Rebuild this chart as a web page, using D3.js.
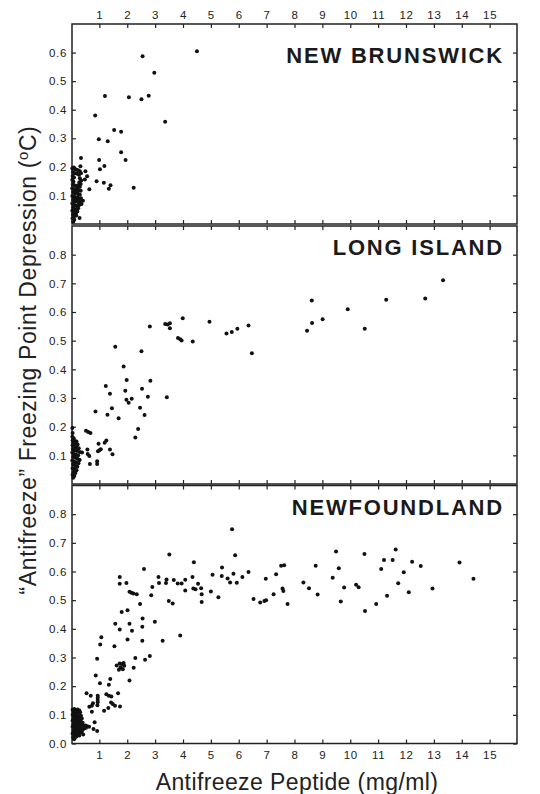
<!DOCTYPE html>
<html>
<head>
<meta charset="utf-8">
<script src="https://cdn.jsdelivr.net/npm/d3@7"></script>
<style>
  body { margin: 0; background: #fff; }
  svg { display: block; font-family: "Liberation Sans", Arial, sans-serif; }
  .tick text { font-size: 11.5px; fill: #222; letter-spacing: 0.7px; }
  .tick line { stroke: #222; stroke-width: 1.2; }
  .frame { fill: none; stroke: #222; stroke-width: 1.5; }
  .title { font-weight: bold; font-size: 22px; fill: #1a1a1a; letter-spacing: 1.8px; }
  .axis-label { font-size: 23px; fill: #222; }
</style>
</head>
<body>
<script>
// Tick values
const xTicks = [1, 2, 3, 4, 5, 6, 7, 8, 9, 10, 11, 12, 13, 14, 15];
const nbTicks = [0.1, 0.2, 0.3, 0.4, 0.5, 0.6];
const liTicks = [0.1, 0.2, 0.3, 0.4, 0.5, 0.6, 0.7, 0.8];
const nfTicks = [0.0, 0.1, 0.2, 0.3, 0.4, 0.5, 0.6, 0.7, 0.8];

// [peptide mg/ml, freezing point depression °C]
const newBrunswick = [
  [4.50,0.605],[2.55,0.587],[2.97,0.529],[1.20,0.448],[2.06,0.444],[2.51,0.437],[2.77,0.449],
  [3.36,0.358],[0.85,0.380],[1.53,0.329],[1.78,0.323],[0.98,0.297],[1.30,0.290],[1.78,0.251],
  [1.94,0.224],[0.99,0.224],[1.18,0.203],[1.02,0.192],[0.34,0.231],[0.32,0.202],[0.50,0.185],
  [0.56,0.167],[0.48,0.156],[0.90,0.150],[1.16,0.144],[1.40,0.136],[1.34,0.123],[2.23,0.127],
  [0.64,0.122],[0.41,0.081],[0.36,0.070],[0.29,0.021],
  [0.03,0.195],[0.08,0.198],[0.13,0.192],[0.18,0.190],[0.24,0.188],[0.30,0.185],[0.05,0.182],
  [0.11,0.178],[0.20,0.176],[0.27,0.172],[0.34,0.178],[0.04,0.168],[0.09,0.163],[0.30,0.160],
  [0.35,0.152],[0.03,0.155],[0.07,0.148],[0.28,0.146],[0.33,0.140],[0.05,0.138],[0.12,0.135],
  [0.18,0.132],[0.24,0.136],[0.30,0.130],[0.03,0.125],[0.09,0.122],[0.15,0.120],[0.21,0.124],
  [0.27,0.118],[0.33,0.116],[0.06,0.112],[0.12,0.108],[0.18,0.110],[0.24,0.105],[0.30,0.102],
  [0.03,0.098],[0.09,0.095],[0.15,0.092],[0.21,0.094],[0.27,0.088],[0.34,0.090],[0.06,0.085],
  [0.12,0.080],[0.18,0.082],[0.24,0.076],[0.30,0.078],[0.03,0.072],[0.09,0.068],[0.15,0.065],
  [0.21,0.062],[0.27,0.066],[0.06,0.058],[0.12,0.052],[0.18,0.050],[0.24,0.055],[0.03,0.046],
  [0.09,0.042],[0.15,0.038],[0.21,0.044],[0.05,0.032],[0.11,0.028],[0.17,0.030],[0.04,0.020],
  [0.10,0.015],[0.06,0.008]
];

const longIsland = [
  [13.33,0.711],[12.69,0.647],[11.29,0.643],[9.91,0.610],[10.52,0.542],[9.01,0.575],[8.62,0.640],
  [8.63,0.562],[8.45,0.535],[6.35,0.553],[6.47,0.456],[5.95,0.542],[5.75,0.530],[5.56,0.525],
  [4.95,0.566],[4.35,0.497],[3.99,0.578],
  [2.81,0.549],[3.36,0.558],[3.53,0.561],[3.53,0.543],[3.45,0.556],[3.82,0.509],[3.90,0.505],
  [3.95,0.501],[1.57,0.479],[2.51,0.463],[1.87,0.410],[1.98,0.363],[2.83,0.360],[1.23,0.342],
  [1.38,0.315],[1.93,0.325],[2.53,0.332],[3.42,0.303],[2.74,0.304],[1.97,0.294],[2.05,0.283],
  [2.16,0.297],[2.46,0.266],[2.62,0.241],[1.45,0.264],[1.29,0.242],[0.86,0.253],[1.69,0.229],
  [2.39,0.192],[2.29,0.162],[0.52,0.186],[0.60,0.181],[0.68,0.178],[0.97,0.140],[1.19,0.144],
  [1.25,0.152],[0.95,0.114],[1.00,0.118],[1.05,0.121],[1.38,0.120],[1.47,0.104],[0.57,0.120],
  [0.58,0.105],[0.64,0.098],[0.66,0.070],[0.92,0.079],[0.92,0.070],[0.38,0.110],[0.29,0.084],
  [0.03,0.195],[0.04,0.178],[0.03,0.165],[0.08,0.160],[0.04,0.152],[0.12,0.150],[0.18,0.148],
  [0.07,0.143],[0.14,0.140],[0.22,0.138],[0.04,0.135],[0.10,0.130],[0.17,0.128],[0.26,0.125],
  [0.05,0.122],[0.12,0.118],[0.20,0.115],[0.30,0.112],[0.03,0.110],[0.09,0.105],[0.16,0.102],
  [0.24,0.100],[0.06,0.095],[0.13,0.092],[0.21,0.088],[0.28,0.085],[0.03,0.082],[0.10,0.078],
  [0.17,0.075],[0.25,0.072],[0.06,0.068],[0.14,0.064],[0.21,0.060],[0.04,0.055],[0.11,0.052],
  [0.18,0.048],[0.07,0.042],[0.14,0.038],[0.04,0.032],[0.10,0.028],[0.06,0.022]
];

const newfoundland = [
  [3.51,0.659],[2.60,0.609],[4.39,0.632],[1.73,0.581],[1.73,0.557],[1.97,0.560],[2.08,0.529],
  [2.15,0.526],[2.22,0.523],[2.34,0.521],[2.46,0.487],[2.86,0.517],[2.90,0.546],[3.12,0.581],
  [3.14,0.560],[3.39,0.560],[3.41,0.572],[3.49,0.497],[3.63,0.488],[3.67,0.570],[3.81,0.558],
  [3.95,0.558],[4.08,0.571],[4.08,0.534],[4.34,0.581],[4.37,0.541],[4.45,0.538],[4.54,0.557],
  [4.65,0.542],[4.67,0.521],[4.67,0.494],[1.80,0.459],[2.01,0.465],[2.55,0.436],[1.57,0.418],
  [2.08,0.418],[1.73,0.398],[2.17,0.393],[2.54,0.407],[2.99,0.425],[2.01,0.363],[2.54,0.358],
  [3.27,0.358],[3.90,0.377],[1.07,0.371],[1.03,0.345],[1.54,0.339],[0.92,0.296],[2.29,0.298],
  [2.64,0.292],[2.81,0.305],[2.23,0.264],[2.08,0.220],
  [1.62,0.272],[1.73,0.279],[1.82,0.277],[1.89,0.271],[1.76,0.266],[1.84,0.259],[1.70,0.257],
  [1.87,0.281],[0.87,0.237],[1.02,0.210],[1.39,0.225],[1.34,0.205],[0.54,0.175],[0.69,0.167],
  [0.94,0.167],[0.94,0.160],[0.94,0.152],[0.94,0.144],[0.93,0.133],[1.25,0.172],[1.34,0.167],
  [1.43,0.164],[1.67,0.175],[0.64,0.128],[0.73,0.132],[0.77,0.140],[0.73,0.111],[1.17,0.114],
  [1.32,0.124],[1.42,0.143],[1.48,0.138],[1.56,0.132],[1.74,0.129],[0.83,0.074],[0.79,0.051],
  [0.92,0.044],[0.42,0.031],[0.09,0.015],
  [5.76,0.747],[5.87,0.657],[5.40,0.614],[5.39,0.584],[5.27,0.510],[5.06,0.589],[5.00,0.530],
  [5.60,0.576],[5.69,0.562],[5.81,0.592],[5.93,0.561],[6.13,0.581],[6.35,0.598],[6.53,0.504],
  [6.77,0.492],[6.92,0.497],[6.98,0.500],[6.97,0.575],[7.25,0.521],[7.34,0.590],[7.52,0.620],
  [7.63,0.622],[7.57,0.541],[7.60,0.532],[7.75,0.487],[8.32,0.562],[8.52,0.542],[8.76,0.620],
  [8.83,0.520],[9.37,0.578],[9.49,0.670],[9.59,0.611],[9.78,0.544],[9.66,0.495],[10.21,0.554],
  [10.30,0.545],[10.51,0.661],[10.53,0.462],[10.93,0.487],[11.11,0.609],[11.21,0.640],[11.32,0.515],
  [11.52,0.640],[11.63,0.677],[11.72,0.559],[11.92,0.597],[12.10,0.528],[12.22,0.634],[12.53,0.619],
  [12.95,0.541],[13.92,0.631],[14.42,0.575],
  [0.04,0.118],[0.10,0.120],[0.16,0.117],[0.22,0.119],[0.28,0.115],[0.07,0.110],[0.13,0.108],
  [0.19,0.111],[0.25,0.106],[0.31,0.109],[0.04,0.100],[0.10,0.098],[0.16,0.101],[0.22,0.096],
  [0.28,0.094],[0.34,0.097],[0.07,0.090],[0.13,0.088],[0.19,0.086],[0.25,0.089],[0.31,0.084],
  [0.37,0.087],[0.04,0.080],[0.10,0.078],[0.16,0.075],[0.22,0.078],[0.28,0.073],[0.34,0.076],
  [0.40,0.072],[0.07,0.068],[0.13,0.066],[0.19,0.064],[0.25,0.067],[0.31,0.062],[0.37,0.065],
  [0.43,0.061],[0.50,0.063],[0.56,0.060],[0.63,0.058],[0.04,0.058],[0.10,0.055],[0.16,0.052],
  [0.22,0.055],[0.28,0.050],[0.34,0.053],[0.40,0.049],[0.46,0.052],[0.52,0.055],[0.07,0.045],
  [0.13,0.042],[0.19,0.040],[0.25,0.043],[0.31,0.038],[0.37,0.041],[0.04,0.035],[0.10,0.032],
  [0.16,0.030],[0.22,0.033],[0.28,0.028],[0.06,0.022],[0.12,0.020],[0.18,0.024]
];

const panels = [
  { name: 'NEW BRUNSWICK', data: newBrunswick, ticks: nbTicks, domain: [0, 0.7], range: [224, 24], titleY: 63 },
  { name: 'LONG ISLAND', data: longIsland, ticks: liTicks, domain: [0, 0.9], range: [484, 226], titleY: 255 },
  { name: 'NEWFOUNDLAND', data: newfoundland, ticks: nfTicks, domain: [0, 0.9], range: [743.5, 485.5], titleY: 515 }
];

const W = 540, H = 794;
const left = 72, right = 517;

const svg = d3.select('body').append('svg')
  .attr('width', W)
  .attr('height', H);

const x = d3.scaleLinear().domain([0, 16]).range([71.5, 517.5]);

panels.forEach((p, i) => {
  const y = d3.scaleLinear().domain(p.domain).range(p.range);
  const top = p.range[1], bottom = p.range[0];
  const g = svg.append('g');

  // left axis with labels, ticks pointing inward
  g.append('g')
    .attr('transform', `translate(${left},0)`)
    .call(d3.axisLeft(y).tickValues(p.ticks).tickSize(-4).tickPadding(5)
      .tickFormat(d3.format('.1f')))
    .call(a => a.select('.domain').remove());

  // right axis, ticks only
  g.append('g')
    .attr('transform', `translate(${right},0)`)
    .call(d3.axisRight(y).tickValues(p.ticks).tickSize(-4).tickFormat(''))
    .call(a => a.select('.domain').remove());

  // top edge
  g.append('g')
    .attr('transform', `translate(0,${top})`)
    .call(d3.axisTop(x).tickValues(xTicks).tickSize(-4).tickPadding(5)
      .tickFormat(i === 0 ? d3.format('d') : ''))
    .call(a => a.select('.domain').remove());

  // bottom edge
  g.append('g')
    .attr('transform', `translate(0,${bottom})`)
    .call(d3.axisBottom(x).tickValues(xTicks).tickSize(-4).tickPadding(7)
      .tickFormat(i === 2 ? d3.format('d') : ''))
    .call(a => a.select('.domain').remove());

  g.append('rect')
    .attr('class', 'frame')
    .attr('x', left)
    .attr('y', top)
    .attr('width', right - left)
    .attr('height', bottom - top);

  g.append('text')
    .attr('class', 'title')
    .attr('x', 504)
    .attr('y', p.titleY)
    .attr('text-anchor', 'end')
    .text(p.name);

  g.selectAll('circle')
    .data(p.data)
    .enter().append('circle')
    .attr('cx', d => x(d[0]))
    .attr('cy', d => y(d[1]))
    .attr('r', 2)
    .attr('fill', '#111');
});

// axis labels
svg.append('text')
  .attr('class', 'axis-label')
  .attr('x', 297)
  .attr('y', 790)
  .attr('text-anchor', 'middle')
  .style('letter-spacing', '0.4px')
  .text('Antifreeze Peptide (mg/ml)');

const yl = svg.append('text')
  .attr('class', 'axis-label')
  .attr('transform', 'translate(36,360) rotate(-90)')
  .attr('text-anchor', 'middle')
  .style('letter-spacing', '0.6px');
yl.append('tspan').text('\u201CAntifreeze\u201D Freezing Point  Depression (');
yl.append('tspan').attr('font-size', '15px').attr('dy', -8).text('o');
yl.append('tspan').attr('dy', 8).text('C)');
</script>
</body>
</html>
